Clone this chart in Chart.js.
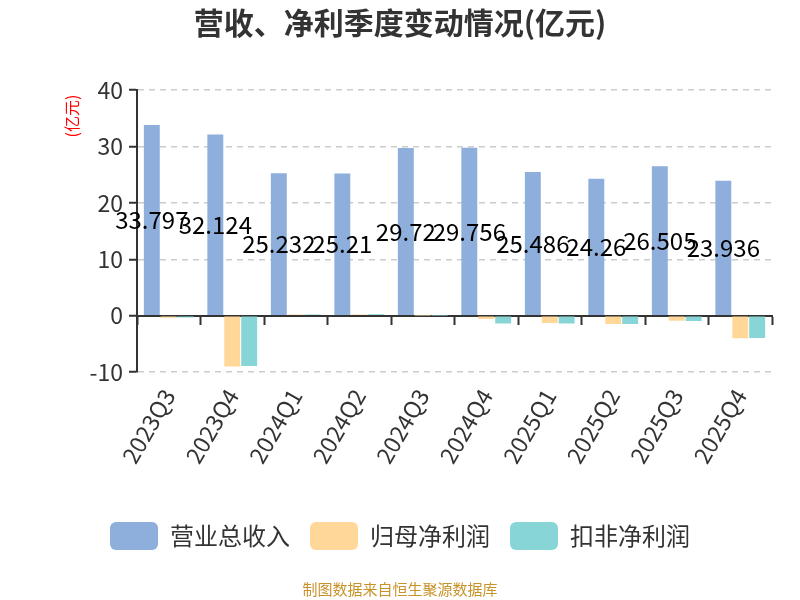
<!DOCTYPE html>
<html>
<head>
<meta charset="utf-8">
<script src="https://cdn.jsdelivr.net/npm/chart.js@4.4.1/dist/chart.umd.min.js"></script>
<style>
  html, body { margin: 0; padding: 0; background: #fff; }
  #wrap { width: 800px; height: 600px; }
</style>
</head>
<body>
<div id="wrap"><canvas id="myChart" width="800" height="600"></canvas></div>
<script>
var quarters = ['2023Q3', '2023Q4', '2024Q1', '2024Q2', '2024Q3', '2024Q4', '2025Q1', '2025Q2', '2025Q3', '2025Q4'];
var revenue = [33.797, 32.124, 25.232, 25.21, 29.72, 29.756, 25.486, 24.26, 26.505, 23.936];
var netProfit = [-0.35, -9.0, 0.2, 0.2, 0.05, -0.6, -1.3, -1.45, -0.9, -4.0];
var deductedProfit = [-0.3, -8.9, 0.2, 0.25, 0.05, -1.4, -1.4, -1.45, -0.95, -3.95];
var yTicks = [-10, 0, 10, 20, 30, 40];

var FONT = "'Noto Sans CJK SC', 'Noto Sans', sans-serif";

// revenue labels in the middle of each blue bar
var valueLabels = {
    id: 'valueLabels',
    afterDatasetsDraw: function (chart) {
        var ctx = chart.ctx;
        var meta = chart.getDatasetMeta(0);
        ctx.save();
        ctx.font = '24px ' + FONT;
        ctx.fillStyle = '#000';
        ctx.textAlign = 'center';
        ctx.textBaseline = 'middle';
        meta.data.forEach(function (bar, i) {
            ctx.fillText(String(revenue[i]), bar.x, (bar.y + bar.base) / 2);
        });
        ctx.restore();
    }
};

// unit label at top of y axis
var unitLabel = {
    id: 'unitLabel',
    afterDraw: function (chart) {
        var ctx = chart.ctx;
        var area = chart.chartArea;
        ctx.save();
        ctx.translate(72, area.top + 26);
        ctx.rotate(-Math.PI / 2);
        ctx.font = '16px ' + FONT;
        ctx.fillStyle = '#ff0000';
        ctx.textAlign = 'center';
        ctx.textBaseline = 'middle';
        ctx.fillText('(亿元)', 0, 0);
        ctx.restore();
    }
};

var ctx = document.getElementById('myChart').getContext('2d');

var mychart = new Chart(ctx, {
    type: 'bar',
    data: {
        labels: quarters,
        datasets: [
            {
                label: '营业总收入',
                data: revenue,
                backgroundColor: '#8eaedb',
                borderWidth: 0
            },
            {
                label: '归母净利润',
                data: netProfit,
                backgroundColor: '#ffd899',
                borderWidth: 0
            },
            {
                label: '扣非净利润',
                data: deductedProfit,
                backgroundColor: '#88d5d8',
                borderWidth: 0
            }
        ]
    },
    options: {
        responsive: false,
        animation: false,
        devicePixelRatio: 1,
        datasets: {
            bar: { categoryPercentage: 0.8, barPercentage: 0.94 }
        },
        layout: {
            padding: { left: 28, right: 28, top: 0, bottom: 0 }
        },
        plugins: {
            title: {
                display: true,
                text: '营收、净利季度变动情况(亿元)',
                color: '#333',
                font: { size: 30, weight: 'bold', family: FONT },
                padding: { top: 5, bottom: 49 }
            },
            subtitle: {
                display: true,
                position: 'bottom',
                text: '制图数据来自恒生聚源数据库',
                color: '#c8932a',
                font: { size: 15, family: FONT },
                padding: { top: 20, bottom: 2 }
            },
            legend: {
                position: 'bottom',
                labels: {
                    color: '#333',
                    font: { size: 24, family: FONT },
                    boxWidth: 48,
                    boxHeight: 28,
                    useBorderRadius: true,
                    borderRadius: 6,
                    padding: 20
                }
            },
            tooltip: { enabled: false }
        },
        scales: {
            x: {
                type: 'category',
                position: { y: 0 },
                offset: true,
                ticks: { display: false },
                grid: {
                    offset: true,
                    drawOnChartArea: false,
                    drawTicks: true,
                    tickLength: 8,
                    tickColor: '#333',
                    tickWidth: 2
                },
                border: { color: '#333', width: 2 }
            },
            x2: {
                type: 'category',
                labels: quarters,
                position: 'bottom',
                offset: true,
                grid: { display: false },
                border: { display: false },
                ticks: {
                    color: '#333',
                    font: { size: 23, family: FONT },
                    minRotation: 60,
                    maxRotation: 60,
                    padding: 4
                },
                afterFit: function (axis) {
                    axis.height += 30;
                }
            },
            y: {
                min: -10,
                max: 40,
                afterBuildTicks: function (axis) {
                    axis.ticks = yTicks.map(function (v) { return { value: v }; });
                },
                afterFit: function (axis) {
                    axis.width = 109;
                },
                ticks: {
                    color: '#333',
                    font: { size: 23, family: FONT },
                    padding: 6
                },
                grid: {
                    color: '#cccccc',
                    lineWidth: 1.5,
                    drawTicks: true,
                    tickLength: 8,
                    tickColor: '#333',
                    tickWidth: 2
                },
                border: { color: '#333', width: 2, dash: [6, 5] }
            }
        }
    },
    plugins: [valueLabels, unitLabel]
});
</script>
</body>
</html>
